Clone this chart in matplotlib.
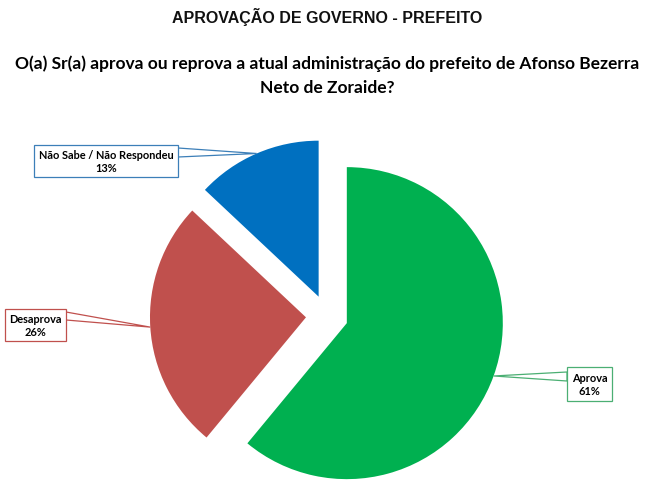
import matplotlib
matplotlib.use("Agg")
import numpy as np
import matplotlib.pyplot as plt
from matplotlib.patches import Rectangle, Polygon

# data
categories = ["Aprova", "Desaprova", "Não Sabe / Não Respondeu"]
values = [61, 26, 13]
colors = ["#00B050", "#C0504D", "#0070C0"]
edge_colors = ["#4BAF73", "#C0504D", "#3C7FB8"]

title = "APROVAÇÃO DE GOVERNO - PREFEITO"
subtitle = ("O(a) Sr(a) aprova ou reprova a atual administração do prefeito de Afonso Bezerra\n"
            "Neto de Zoraide?")

W, H = 655, 489
CX, CY, R = 327, 317, 156   # pie centre and radius in image pixels


def px2d(x, y):
    """image pixel (y down) -> data coords"""
    return ((x - CX) / R, (CY - y) / R)


# callout boxes in image pixels: (x0, y0, x1, y1), pointer base y range on box side, side
boxes = [
    ((567, 368, 612, 402), (373, 382), "left"),
    ((5, 310, 66, 342), (313, 321), "right"),
    ((34, 146, 178, 178), (149, 158), "right"),
]

fig = plt.figure(figsize=(W / 100, H / 100), dpi=100)
ax = fig.add_axes([0, 0, 1, 1])

wedges, _ = ax.pie(values, colors=colors, startangle=90, counterclock=False,
                   explode=[0.135] * 3, radius=1, center=(0, 0),
                   wedgeprops=dict(linewidth=0))

# pie() resets the limits, so set them afterwards
ax.set_xlim(-CX / R, (W - CX) / R)
ax.set_ylim(-(H - CY) / R, CY / R)
ax.set_aspect("equal")
ax.axis("off")

fig.text(0.5, 1 - 17 / H, title, ha="center", va="center",
         fontsize=11.5, fontweight="bold", family="Liberation Sans", color="#111111")
fig.text(0.5, 1 - 76 / H, subtitle, ha="center", va="center",
         fontsize=12.5, fontweight="bold", family="Lato", linespacing=1.6)

for w, cat, val, ec, (bx, (yb0, yb1), side) in zip(wedges, categories, values,
                                                    edge_colors, boxes):
    mid = np.deg2rad((w.theta1 + w.theta2) / 2)
    tip = (w.center[0] + w.r * np.cos(mid), w.center[1] + w.r * np.sin(mid))
    x0, y0, x1, y1 = bx
    xs = x0 if side == "left" else x1
    p0 = px2d(xs, yb0)
    p1 = px2d(xs, yb1)
    ax.add_patch(Polygon([p0, tip, p1], closed=True, facecolor="white",
                         edgecolor=ec, linewidth=0.9, zorder=3))
    ll = px2d(x0, y1)
    ur = px2d(x1, y0)
    ax.add_patch(Rectangle(ll, ur[0] - ll[0], ur[1] - ll[1], facecolor="white",
                           edgecolor=ec, linewidth=0.9, zorder=4))
    ax.text((ll[0] + ur[0]) / 2, (ll[1] + ur[1]) / 2, f"{cat}\n{val}%",
            ha="center", va="center", fontsize=7.9, fontweight="bold",
            family="Lato", linespacing=1.3, zorder=5)

fig.savefig("out.png", dpi=100)
